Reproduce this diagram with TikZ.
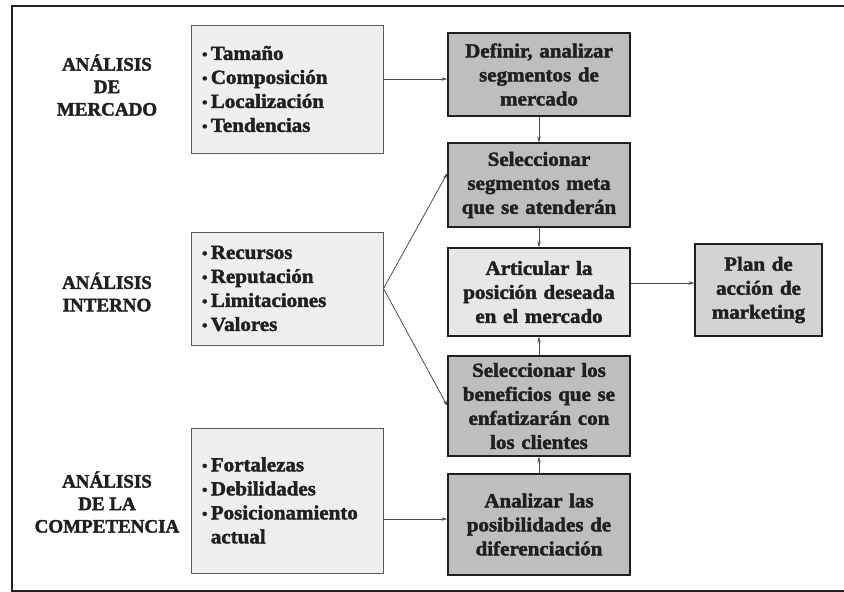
\documentclass[tikz,border=0pt]{standalone}
\usepackage{fontspec}
\newfontfamily\figfont[FakeStretch=1.05,FakeBold=2]{Liberation Serif Bold}
\newfontfamily\headfont[FakeBold=2]{Liberation Serif Bold}
\usetikzlibrary{arrows.meta,positioning}
\definecolor{inkgray}{HTML}{231F20}
\definecolor{listfill}{HTML}{EEF0EF}
\definecolor{darkfill}{HTML}{BCBEC0}
\definecolor{lightfill}{HTML}{E6E7E8}
\definecolor{planfill}{HTML}{D1D3D4}
\definecolor{boxline}{HTML}{58595B}
\definecolor{arrowgray}{HTML}{4D4D4F}
\newcommand{\blt}{{\fontsize{15}{24}\selectfont\raisebox{0.5pt}{•}}\,}

\begin{document}
\begin{tikzpicture}[
x=1pt,y=-1pt,
font=\figfont\fontsize{20}{24}\selectfont,
title/.style={align=center,text=inkgray,font=\headfont\fontsize{19}{22.5}\selectfont},
listbox/.style={rectangle,draw=boxline,fill=listfill,line width=1pt,minimum width=192pt,text width=170pt,inner xsep=11pt,align=left,text=inkgray},
stepbox/.style={rectangle,draw=inkgray,fill=darkfill,line width=1.2pt,minimum width=182pt,text width=174pt,inner xsep=4pt,align=center,text=inkgray},
arr/.style={draw=arrowgray,line width=0.8pt,-{Stealth[length=6pt,width=3.5pt]}}
]
\useasboundingbox (0,0) rectangle (844,592);

% outer frame, open at the right
\draw[line width=2pt,inkgray] (844,5.5) -- (12,5.5) -- (12,590.5) -- (844,590.5);

% row titles
\node[title] (mercado) at (107,85) {ANÁLISIS\\DE\\MERCADO};
\node[title] (interno) at (107,292) {ANÁLISIS\\INTERNO};
\node[title] (competencia) at (107,502) {ANÁLISIS\\DE LA\\COMPETENCIA};

% input lists
\node[listbox,minimum height=128pt] (tamano) at (287,89) {\blt Tamaño\\ \blt Composición\\ \blt Localización\\ \blt Tendencias};
\node[listbox,minimum height=113pt] (recursos) at (287,288.5) {\blt Recursos\\ \blt Reputación\\ \blt Limitaciones\\ \blt Valores};
\node[listbox,minimum height=145pt] (fortalezas) at (287,500.5) {\blt Fortalezas\\ \blt Debilidades\\ \blt Posicionamiento\\ \phantom{\blt}actual};

% steps
\node[stepbox,minimum height=83pt] (definir) at (539,74.5) {Definir, analizar\\segmentos de\\mercado};
\node[stepbox,minimum height=84pt] (metas) at (539,185) {Seleccionar\\segmentos meta\\que se atenderán};
\node[stepbox,fill=lightfill,minimum height=88pt] (posicion) at (539,292) {Articular la\\posición deseada\\en el mercado};
\node[stepbox,minimum height=100pt] (beneficios) at (539,406) {Seleccionar los\\beneficios que se\\enfatizarán con\\los clientes};
\node[stepbox,minimum height=101pt] (diferencia) at (539,524.5) {Analizar las\\posibilidades de\\diferenciación};
\node[stepbox,fill=planfill,minimum width=127pt,text width=119pt,minimum height=92pt] (plan) at (758.5,290) {Plan de\\acción de\\marketing};

\draw[arr] ([yshift=10pt]tamano.east) -- ([yshift=10pt]tamano.east -| definir.west);
\draw[arr] (definir) -- (metas);
\draw[arr] (metas) -- (posicion);
\draw[arr] (beneficios) -- (posicion);
\draw[arr] (diferencia) -- (beneficios);
\draw[arr] ([yshift=9pt]posicion.east) -- ([yshift=9pt]posicion.east -| plan.west);
\draw[arr] (recursos.east) -- ([yshift=12pt]metas.west);
\draw[arr] (recursos.east) -- (beneficios.west);
\draw[arr] ([yshift=-18.5pt]fortalezas.east) -- ([yshift=-18.5pt]fortalezas.east -| diferencia.west);

\end{tikzpicture}
\end{document}
